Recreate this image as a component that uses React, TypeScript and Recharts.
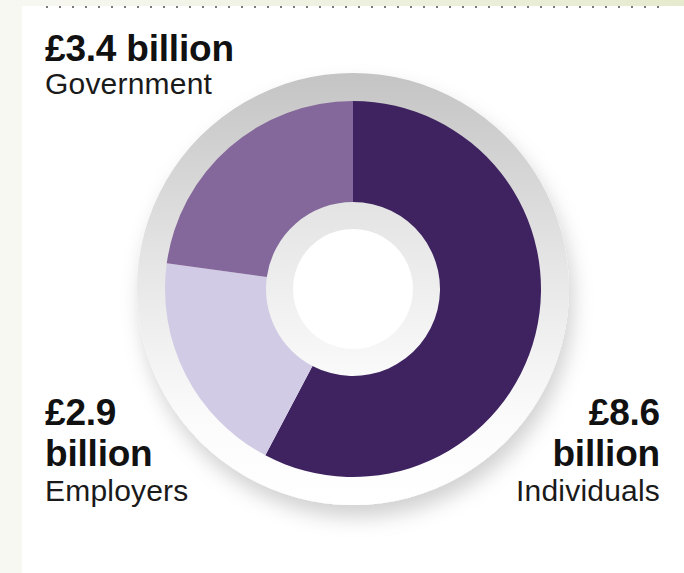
import React from 'react'
import { PieChart, Pie, Cell } from 'recharts'

// funding sources, £ billion
const categories = ['Individuals', 'Employers', 'Government']
const amounts = [8.6, 2.9, 3.4]
const sliceColors = ['#3e2360', '#d2cbe5', '#85689b']

const W = 684
const H = 573
const CX = 353
const CY = 289

const pieData = categories.map((name, i) => ({ name, value: amounts[i] }))
const ringData = [{ name: 'ring', value: 1 }]

const FONT = '"Liberation Sans", Arial, sans-serif'

// label placement: x, anchor, baselines for amount lines + category line
const labelLayout: Record<string, { x: number; anchor: 'start' | 'end'; split: boolean; ys: number[] }> = {
  Government: { x: 45, anchor: 'start', split: false, ys: [61, 94] },
  Employers: { x: 45, anchor: 'start', split: true, ys: [425, 466, 501] },
  Individuals: { x: 660, anchor: 'end', split: true, ys: [425, 466, 501] },
}

function Labels() {
  return (
    <svg width={W} height={H} style={{ position: 'absolute', left: 0, top: 0, pointerEvents: 'none' }}>
      {categories.map((name, i) => {
        const l = labelLayout[name]
        const amt = `£${amounts[i]}`
        const lines = l.split ? [amt, 'billion'] : [`${amt} billion`]
        return (
          <g key={name} fontFamily={FONT} textAnchor={l.anchor} fill="#111">
            {lines.map((t, j) => (
              <text key={j} x={l.x} y={l.ys[j]} fontSize={37} fontWeight={700} letterSpacing={-0.2}>
                {t}
              </text>
            ))}
            <text x={l.x} y={l.ys[lines.length]} fontSize={30} letterSpacing={0.2} fill="#1a1a1a">
              {name}
            </text>
          </g>
        )
      })}
    </svg>
  )
}

export default function App() {
  return (
    <div
      style={{
        position: 'absolute',
        left: 0,
        top: 0,
        width: W,
        height: H,
        background: '#f7f8f1',
        overflow: 'hidden',
      }}
    >
      {/* top strip */}
      <div
        style={{
          position: 'absolute',
          left: 0,
          top: 0,
          width: W,
          height: 6,
          background: 'linear-gradient(90deg, #f8f8f3 0%, #eef1e0 50%, #e6ebcf 100%)',
        }}
      />
      {/* white panel */}
      <div style={{ position: 'absolute', left: 22, top: 6, width: W - 22, height: H - 6, background: '#fff' }} />
      {/* dotted rule */}
      <div
        style={{
          position: 'absolute',
          left: 46,
          top: 6,
          width: 616,
          height: 2,
          background: 'repeating-linear-gradient(90deg, #7a7a7a 0 2px, transparent 2px 13px)',
        }}
      />

      <div style={{ position: 'absolute', left: 0, top: 0 }}>
        <PieChart width={W} height={H} margin={{ top: 0, right: 0, bottom: 0, left: 0 }}>
          <defs>
            <linearGradient id="outerGrad" x1="0" y1="0" x2="0" y2="1">
              <stop offset="0%" stopColor="#c4c4c4" />
              <stop offset="45%" stopColor="#e6e6e6" />
              <stop offset="80%" stopColor="#fbfbfb" />
              <stop offset="100%" stopColor="#ffffff" />
            </linearGradient>
            <linearGradient id="innerGrad" x1="0" y1="0" x2="0" y2="1">
              <stop offset="0%" stopColor="#e3e3e3" />
              <stop offset="100%" stopColor="#fafafa" />
            </linearGradient>
            <filter id="discShadow" x="-20%" y="-20%" width="140%" height="150%">
              <feDropShadow dx="4" dy="12" stdDeviation="10" floodColor="#000" floodOpacity="0.18" />
            </filter>
          </defs>
          <Pie
            data={ringData}
            dataKey="value"
            cx={CX}
            cy={CY}
            innerRadius={0}
            outerRadius={216}
            startAngle={90}
            endAngle={-270}
            stroke="none"
            fill="url(#outerGrad)"
            style={{ filter: 'url(#discShadow)' }}
            isAnimationActive={false}
          />
          <Pie
            data={ringData}
            dataKey="value"
            cx={CX}
            cy={CY}
            innerRadius={0}
            outerRadius={61}
            startAngle={90}
            endAngle={-270}
            stroke="none"
            fill="#ffffff"
            isAnimationActive={false}
          />
          <Pie
            data={ringData}
            dataKey="value"
            cx={CX}
            cy={CY}
            innerRadius={60}
            outerRadius={88}
            startAngle={90}
            endAngle={-270}
            stroke="none"
            fill="url(#innerGrad)"
            isAnimationActive={false}
          />
          <Pie
            data={pieData}
            dataKey="value"
            nameKey="name"
            cx={CX}
            cy={CY}
            innerRadius={87}
            outerRadius={188}
            startAngle={90}
            endAngle={-270}
            stroke="none"
            isAnimationActive={false}
          >
            {pieData.map((d, i) => (
              <Cell key={d.name} fill={sliceColors[i]} />
            ))}
          </Pie>
        </PieChart>
      </div>

      <Labels />
    </div>
  )
}
